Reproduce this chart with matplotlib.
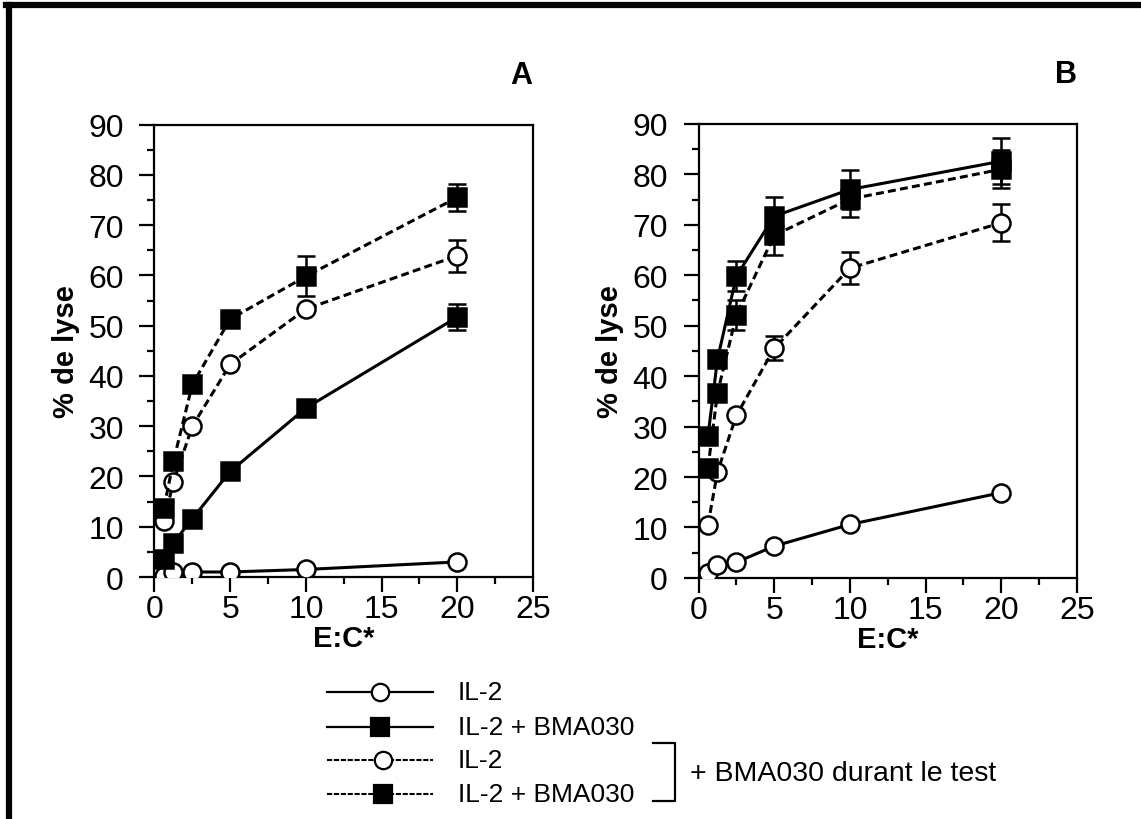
import matplotlib

matplotlib.use("Agg")
import matplotlib.pyplot as plt
from matplotlib.lines import Line2D

plt.rcParams["font.family"] = ["Liberation Sans", "DejaVu Sans"]

# E:C* ratios
ratios = [0.625, 1.25, 2.5, 5, 10, 20]

# Panel A (% de lyse)
a_il2 = [0.3, 1.0, 1.0, 1.0, 1.5, 3.0]
a_il2_bma = [3.5, 6.8, 11.6, 21.0, 33.6, 51.7]
a_il2_bma_err = [0, 0, 0, 0, 0, 2.6]
a_il2_test = [11.1, 18.9, 30.0, 42.3, 53.3, 63.9]
a_il2_test_err = [0, 0, 0, 0, 0, 3.2]
a_il2_bma_test = [13.8, 23.0, 38.3, 51.3, 59.8, 75.5]
a_il2_bma_test_err = [0, 0, 0, 0, 4.0, 2.6]

# Panel B (% de lyse)
b_il2 = [1.0, 2.5, 3.1, 6.3, 10.6, 16.9]
b_il2_bma = [28.1, 43.3, 59.8, 71.7, 77.0, 82.6]
b_il2_bma_err = [0, 0, 3.0, 3.8, 3.8, 4.6]
b_il2_test = [10.5, 21.0, 32.2, 45.5, 61.4, 70.4]
b_il2_test_err = [0, 0, 0, 2.4, 3.2, 3.7]
b_il2_bma_test = [21.8, 36.6, 52.1, 67.9, 75.1, 81.0]
b_il2_bma_test_err = [0, 0, 3.0, 3.8, 3.6, 3.8]

legend_labels = ["IL-2", "IL-2 + BMA030", "IL-2", "IL-2 + BMA030"]
bracket_label = "+ BMA030 durant le test"

DASH = (2.6, 1.4)


def draw_series(ax, y, err, marker, dashed):
    ls = "--" if dashed else "-"
    face = "white" if marker == "o" else "black"
    ms = 13 if marker == "o" else 13.5
    kw = dict(color="black", lw=2.2, marker=marker, ms=ms, mfc=face,
              mec="black", mew=1.8, zorder=3)
    line, = ax.plot(ratios, y, ls=ls, **kw)
    if dashed:
        line.set_dashes(DASH)
    if err is not None:
        xs = [x for x, e in zip(ratios, err) if e > 0]
        ys = [v for v, e in zip(y, err) if e > 0]
        es = [e for e in err if e > 0]
        ax.errorbar(xs, ys, yerr=es, fmt="none", ecolor="black",
                    elinewidth=1.8, capsize=6.5, capthick=1.8, zorder=2)


def style_axes(ax, letter):
    ax.set_xlim(0, 25)
    ax.set_ylim(0, 90)
    ax.set_xticks(range(0, 26, 5))
    ax.set_xticks([2.5, 7.5, 12.5, 17.5, 22.5], minor=True)
    ax.set_yticks(range(0, 91, 10))
    ax.set_yticks(range(5, 90, 10), minor=True)
    for s in ax.spines.values():
        s.set_linewidth(1.6)
    ax.tick_params(which="major", direction="out", length=11, width=1.6,
                   labelsize=23)
    ax.tick_params(which="minor", direction="out", length=5, width=1.6)
    ax.tick_params(axis="y", which="major", pad=11)
    ax.tick_params(axis="x", which="major", pad=1)
    ax.tick_params(top=False, right=False, which="both")
    ax.set_xlabel("E:C*", fontsize=21, fontweight="bold", labelpad=0)
    ax.set_ylabel("% de lyse", fontsize=21, fontweight="bold", labelpad=6)
    ax.text(0.97, 1.11, letter, transform=ax.transAxes, fontsize=22,
            fontweight="bold", ha="center", va="center")


fig = plt.figure(figsize=(11.41, 8.2), dpi=100)
ax_a = fig.add_axes([0.1354, 0.2951, 0.3317, 0.5518])
ax_b = fig.add_axes([0.6122, 0.2940, 0.3317, 0.5537])

draw_series(ax_a, a_il2, None, "o", False)
draw_series(ax_a, a_il2_bma, a_il2_bma_err, "s", False)
draw_series(ax_a, a_il2_test, a_il2_test_err, "o", True)
draw_series(ax_a, a_il2_bma_test, a_il2_bma_test_err, "s", True)
style_axes(ax_a, "A")

draw_series(ax_b, b_il2, None, "o", False)
draw_series(ax_b, b_il2_bma, b_il2_bma_err, "s", False)
draw_series(ax_b, b_il2_test, b_il2_test_err, "o", True)
draw_series(ax_b, b_il2_bma_test, b_il2_bma_test_err, "s", True)
style_axes(ax_b, "B")

# overlay in pixel coordinates for the legend and the frame
ov = fig.add_axes([0, 0, 1, 1], zorder=-1)
ov.set_xlim(0, 1141)
ov.set_ylim(820, 0)
ov.axis("off")

ov.add_line(Line2D([9, 9], [6, 820], color="black", lw=4.5))
ov.add_line(Line2D([6, 1141], [6, 6], color="black", lw=4.5))

rows_y = [693, 728, 761, 795]
markers = ["o", "s", "o", "s"]
dashed = [False, False, True, True]
for y, m, d, lab in zip(rows_y, markers, dashed, legend_labels):
    seg = Line2D([327, 433], [y, y], color="black", lw=1.6 if not d else 1.5,
                 ls="--" if d else "-")
    if d:
        seg.set_dashes((2.5, 0.8))
    ov.add_line(seg)
    mx = 380 if not d else 383
    ov.add_line(Line2D([mx], [y], marker=m, ms=12.5,
                       mfc="white" if m == "o" else "black", mec="black",
                       mew=1.6, ls="none"))
    ov.text(458, y, lab, fontsize=19, ha="left", va="center")

ov.add_line(Line2D([653, 675, 675, 653], [744, 744, 802, 802],
                   color="black", lw=1.6))
ov.text(690, 774, bracket_label, fontsize=20.5, ha="left", va="center")

fig.savefig("out.png", dpi=100)
